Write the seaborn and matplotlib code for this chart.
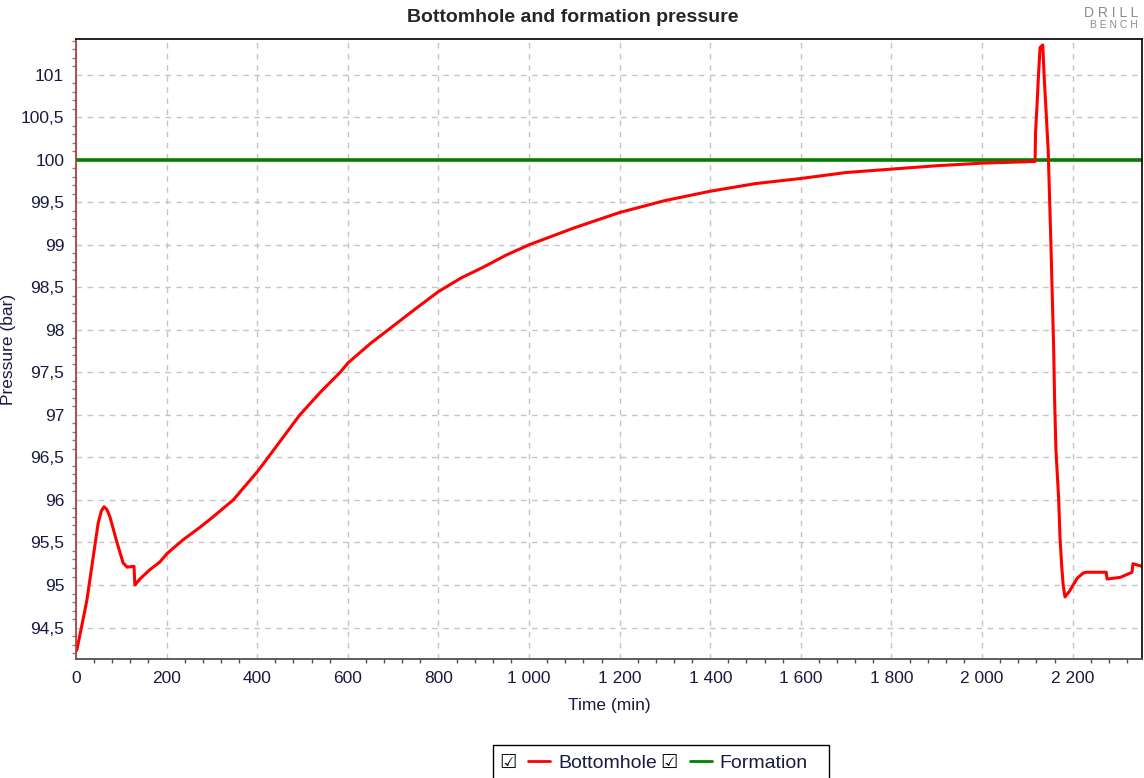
import pandas as pd
import numpy as np
import matplotlib.pyplot as plt
import matplotlib.ticker as mticker
from matplotlib.lines import Line2D
from matplotlib.patches import Rectangle
import seaborn as sns

# bottomhole pressure
time_bh = [0, 2, 12, 24, 38, 49, 56, 62, 68, 75, 91, 104, 113, 128, 130, 141,
           163, 185, 201, 236, 274, 300, 347, 400, 424, 494, 540, 583, 600,
           650, 689, 750, 800, 850, 900, 950, 1000, 1100, 1200, 1300, 1400,
           1500, 1600, 1700, 1800, 1900, 2000, 2117, 2118, 2121, 2124, 2128,
           2134, 2137, 2141, 2146, 2149, 2152, 2155, 2158, 2160, 2163, 2169,
           2172, 2176, 2179, 2183, 2192, 2210, 2223, 2230, 2274, 2276, 2305,
           2327, 2331, 2333, 2353]
pressure_bh = [94.22, 94.24, 94.5, 94.82, 95.33, 95.73, 95.87, 95.92, 95.89,
               95.8, 95.49, 95.26, 95.21, 95.22, 95.0, 95.07, 95.18, 95.27,
               95.37, 95.53, 95.68, 95.79, 96.0, 96.33, 96.5, 97.0, 97.27,
               97.5, 97.61, 97.84, 98.0, 98.25, 98.45, 98.61, 98.74, 98.88,
               99.0, 99.2, 99.38, 99.52, 99.63, 99.72, 99.78, 99.85, 99.89,
               99.93, 99.96, 99.98, 100.32, 100.61, 100.94, 101.32, 101.35,
               100.98, 100.6, 100.1, 99.55, 99.0, 98.39, 97.79, 97.2, 96.59,
               96.02, 95.56, 95.2, 95.0, 94.86, 94.92, 95.08, 95.14, 95.15,
               95.15, 95.07, 95.09, 95.14, 95.15, 95.25, 95.22]

time_fm = [0, 2360]
pressure_fm = [100.0, 100.0]

df_bh = pd.DataFrame({'time': time_bh, 'pressure': pressure_bh})
df_fm = pd.DataFrame({'time': time_fm, 'pressure': pressure_fm})

sns.set_style('white')
plt.rcParams['font.family'] = ['Liberation Sans', 'DejaVu Sans']

fig = plt.figure(figsize=(11.44, 7.78), dpi=100)
ax = fig.add_axes([76 / 1144, 1 - 659 / 778, (1142 - 76) / 1144, (659 - 39) / 778])

sns.lineplot(data=df_fm, x='time', y='pressure', ax=ax, color='#008000', linewidth=2.6)
sns.lineplot(data=df_bh, x='time', y='pressure', ax=ax, color='#ff0000', linewidth=2.2)

ax.set_xlim(0, 2353)
ax.set_ylim(94.13, 101.42)

ax.xaxis.set_major_locator(mticker.MultipleLocator(200))
ax.xaxis.set_minor_locator(mticker.MultipleLocator(40))
ax.yaxis.set_major_locator(mticker.MultipleLocator(0.5))
ax.yaxis.set_minor_locator(mticker.MultipleLocator(0.1))

def fmt_x(v, pos):
    return f'{int(round(v)):,}'.replace(',', ' ')

def fmt_y(v, pos):
    s = f'{v:g}'
    return s.replace('.', ',')

ax.xaxis.set_major_formatter(mticker.FuncFormatter(fmt_x))
ax.yaxis.set_major_formatter(mticker.FuncFormatter(fmt_y))

ax.grid(True, which='major', color='#c4c4c4', linestyle=(0, (4, 4)), linewidth=1)
ax.set_axisbelow(True)

ax.tick_params(axis='both', which='major', labelsize=12.5, labelcolor='#1a1a40')
ax.tick_params(axis='y', which='major', length=5, color='#808080', width=1)
ax.tick_params(axis='y', which='minor', left=True, length=3, color='#808080', width=1)
ax.tick_params(axis='x', which='major', length=5, color='#505050', width=1)
ax.tick_params(axis='x', which='minor', bottom=True, length=3, color='#505050', width=1)

for side in ['top', 'right']:
    ax.spines[side].set_color('black')
    ax.spines[side].set_linewidth(1.2)
ax.spines['left'].set_color('#a04545')
ax.spines['left'].set_linewidth(1.3)
ax.spines['bottom'].set_color('#505050')
ax.spines['bottom'].set_linewidth(1.3)

ax.set_xlabel('Time (min)', fontsize=12.5, labelpad=9, color='#1a1a40')
ax.set_ylabel('Pressure (bar)', fontsize=12.5, color='#1a1a40')
ax.yaxis.set_label_coords((16 - 76) / 1066, 0.5)

fig.text(573 / 1144, 1 - 17 / 778, 'Bottomhole and formation pressure',
         ha='center', va='center', fontsize=14, fontweight='bold')

# logo in the corner
fig.text(1138 / 1144, 1 - 13 / 778, 'D R I L L', ha='right', va='center',
         fontsize=10, color='#8c8c8c')
fig.text(1138 / 1144, 1 - 25 / 778, 'B E N C H', ha='right', va='center',
         fontsize=7.5, color='#8c8c8c')

# legend strip at the bottom
fig.patches.append(Rectangle((493 / 1144, 1 - 800 / 778), (829 - 493) / 1144, 55 / 778,
                             transform=fig.transFigure, facecolor='white',
                             edgecolor='black', linewidth=1, zorder=1))
handles = [Line2D([], [], color='#ff0000', linewidth=2),
           Line2D([], [], color='#008000', linewidth=2)]
leg = fig.legend(handles, ['Bottomhole', 'Formation'], ncol=2,
                 loc='center left', bbox_to_anchor=(528 / 1144, 1 - 763 / 778),
                 fontsize=14, frameon=False, borderpad=0, borderaxespad=0,
                 handlelength=1.13, handletextpad=0.41, columnspacing=1.7)
for t in leg.get_texts():
    t.set_color('#1a1a40')
for xpx in [508, 669]:
    fig.text(xpx / 1144, 1 - 762 / 778, '\u2611', ha='center', va='center',
             fontsize=14, family=['DejaVu Sans'], color='#101010', zorder=5)

fig.savefig('out.png', dpi=100)
